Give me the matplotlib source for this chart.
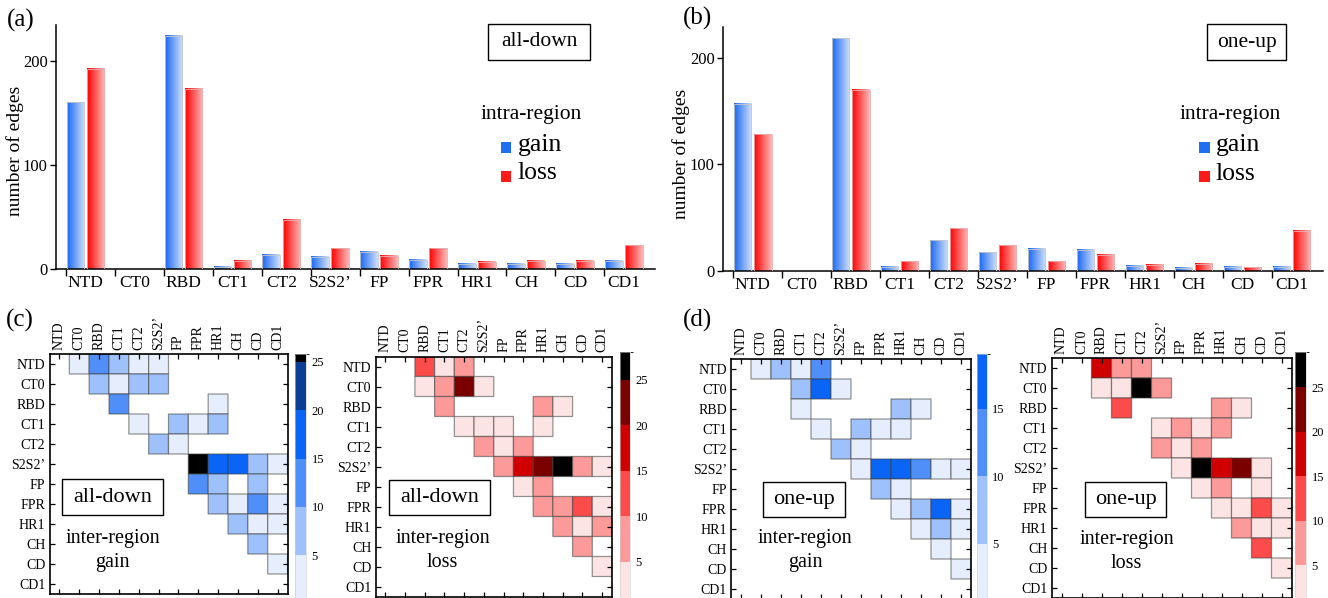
import numpy as np
import matplotlib
matplotlib.use("Agg")
import matplotlib.pyplot as plt
from matplotlib.colors import ListedColormap, BoundaryNorm, LinearSegmentedColormap
from matplotlib.patches import Rectangle
from matplotlib.cm import ScalarMappable

plt.rcParams['font.family'] = ['Liberation Serif', 'DejaVu Serif']

W, H = 1328, 598

regions = ["NTD", "CT0", "RBD", "CT1", "CT2", "S2S2\u2019", "FP", "FPR", "HR1", "CH", "CD", "CD1"]

# intra-region edge counts
alldown_gain = [160, 0, 224, 2, 14, 12, 17, 9, 5, 5, 5, 8]
alldown_loss = [192, 0, 173, 8, 47, 20, 13, 20, 7, 8, 8, 23]
oneup_gain = [157, 0, 218, 4, 29, 17.5, 21, 20, 5, 3, 4, 4]
oneup_loss = [128, 0, 170, 9, 40, 24, 9, 15, 6, 7, 3.5, 37.5]

# inter-region matrices (rows/cols in order of `regions`)
G_ad = [
    [0, 3, 12, 7, 3, 3, 0, 0, 0, 0, 0, 0],
    [0, 0, 7, 3, 7, 7, 0, 0, 0, 0, 0, 0],
    [0, 0, 0, 12, 0, 0, 0, 0, 3, 0, 0, 0],
    [0, 0, 0, 0, 3, 0, 7, 3, 7, 0, 0, 0],
    [0, 0, 0, 0, 0, 7, 3, 0, 0, 0, 0, 0],
    [0, 0, 0, 0, 0, 0, 0, 25.5, 17, 17, 7, 3],
    [0, 0, 0, 0, 0, 0, 0, 12, 7, 0, 7, 0],
    [0, 0, 0, 0, 0, 0, 0, 0, 7, 3, 12, 3],
    [0, 0, 0, 0, 0, 0, 0, 0, 0, 7, 3, 3],
    [0, 0, 0, 0, 0, 0, 0, 0, 0, 0, 7, 0],
    [0, 0, 0, 0, 0, 0, 0, 0, 0, 0, 0, 3],
    [0, 0, 0, 0, 0, 0, 0, 0, 0, 0, 0, 0],
]
L_ad = [
    [0, 0, 12, 3, 7, 0, 0, 0, 0, 0, 0, 0],
    [0, 0, 3, 7, 22, 3, 0, 0, 0, 0, 0, 0],
    [0, 0, 0, 7, 0, 0, 0, 0, 7, 3, 0, 0],
    [0, 0, 0, 0, 3, 3, 3, 0, 3, 0, 0, 0],
    [0, 0, 0, 0, 0, 7, 3, 7, 0, 0, 0, 0],
    [0, 0, 0, 0, 0, 0, 7, 17, 22, 27, 7, 3],
    [0, 0, 0, 0, 0, 0, 0, 3, 7, 0, 0, 0],
    [0, 0, 0, 0, 0, 0, 0, 0, 7, 7, 12, 3],
    [0, 0, 0, 0, 0, 0, 0, 0, 0, 7, 3, 7],
    [0, 0, 0, 0, 0, 0, 0, 0, 0, 0, 7, 0],
    [0, 0, 0, 0, 0, 0, 0, 0, 0, 0, 0, 3],
    [0, 0, 0, 0, 0, 0, 0, 0, 0, 0, 0, 0],
]
G_ou = [
    [0, 3, 7, 3, 12, 0, 0, 0, 0, 0, 0, 0],
    [0, 0, 0, 7, 17, 3, 0, 0, 0, 0, 0, 0],
    [0, 0, 0, 3, 0, 0, 0, 0, 7, 3, 0, 0],
    [0, 0, 0, 0, 3, 0, 7, 3, 3, 0, 0, 0],
    [0, 0, 0, 0, 0, 7, 3, 0, 0, 0, 0, 0],
    [0, 0, 0, 0, 0, 0, 3, 17, 17, 12, 3, 3],
    [0, 0, 0, 0, 0, 0, 0, 7, 3, 0, 0, 0],
    [0, 0, 0, 0, 0, 0, 0, 0, 3, 7, 17, 3],
    [0, 0, 0, 0, 0, 0, 0, 0, 0, 3, 7, 3],
    [0, 0, 0, 0, 0, 0, 0, 0, 0, 0, 3, 0],
    [0, 0, 0, 0, 0, 0, 0, 0, 0, 0, 0, 3],
    [0, 0, 0, 0, 0, 0, 0, 0, 0, 0, 0, 0],
]
L_ou = [
    [0, 0, 17, 7, 7, 0, 0, 0, 0, 0, 0, 0],
    [0, 0, 3, 3, 28, 7, 0, 0, 0, 0, 0, 0],
    [0, 0, 0, 12, 0, 0, 0, 0, 7, 3, 0, 0],
    [0, 0, 0, 0, 0, 3, 7, 3, 7, 0, 0, 0],
    [0, 0, 0, 0, 0, 7, 3, 7, 0, 0, 0, 0],
    [0, 0, 0, 0, 0, 0, 3, 28, 17, 22, 3, 0],
    [0, 0, 0, 0, 0, 0, 0, 3, 7, 0, 3, 0],
    [0, 0, 0, 0, 0, 0, 0, 0, 3, 3, 12, 3],
    [0, 0, 0, 0, 0, 0, 0, 0, 0, 7, 3, 3],
    [0, 0, 0, 0, 0, 0, 0, 0, 0, 0, 12, 0],
    [0, 0, 0, 0, 0, 0, 0, 0, 0, 0, 0, 3],
    [0, 0, 0, 0, 0, 0, 0, 0, 0, 0, 0, 0],
]

blues = ['#e6eefd', '#9ec1fb', '#4f8ff7', '#0a64f5', '#0b3f96', '#000000']
reds = ['#fde4e4', '#fc9a9a', '#fb4b4b', '#d00000', '#7a0000', '#000000']

fig = plt.figure(figsize=(W / 100, H / 100), dpi=100)


def ax_px(l, t, r, b):
    return fig.add_axes([l / W, 1 - b / H, (r - l) / W, (b - t) / H])


def ftxt(x, y, s, **kw):
    fig.text(x / W, 1 - y / H, s, **kw)


def fbox(l, t, r, b, lw=1.0):
    fig.add_artist(Rectangle((l / W, 1 - b / H), (r - l) / W, (b - t) / H,
                             transform=fig.transFigure, fill=False,
                             edgecolor='black', lw=lw))


def fsq(l, t, r, b, color):
    fig.add_artist(Rectangle((l / W, 1 - b / H), (r - l) / W, (b - t) / H,
                             transform=fig.transFigure, facecolor=color,
                             edgecolor='none'))


def barpanel(rect, xlim, ylim, gain, loss):
    ax = ax_px(*rect)
    x = np.arange(len(regions))
    bw = 0.36
    bg = ax.bar(x - 0.205, gain, bw, facecolor='none', edgecolor='#c8c8c8', lw=0.6, zorder=3)
    bl = ax.bar(x + 0.205, loss, bw, facecolor='none', edgecolor='#e8b0b0', lw=0.6, zorder=3)
    grad = np.linspace(0, 1, 64)[None, :]
    cm_b = LinearSegmentedColormap.from_list('gb', ['#1a68f2', '#cfe0fb'])
    cm_r = LinearSegmentedColormap.from_list('gr', ['#ff0000', '#ffb8b8'])
    for bars, cm in ((bg, cm_b), (bl, cm_r)):
        for p in bars.patches:
            h = p.get_height()
            if h <= 0:
                continue
            x0 = p.get_x()
            ax.imshow(grad, extent=(x0, x0 + p.get_width(), 0, h), aspect='auto',
                      cmap=cm, zorder=2, interpolation='bilinear')
    ax.set_xlim(*xlim)
    ax.set_ylim(*ylim)
    for s in ('top', 'right'):
        ax.spines[s].set_visible(False)
    for s in ('left', 'bottom'):
        ax.spines[s].set_linewidth(1.1)
    ax.set_yticks([0, 100, 200])
    ax.tick_params(axis='y', direction='out', length=4, width=1, labelsize=12, pad=2)
    ax.set_xticks(x - 0.4)
    ax.set_xticklabels([])
    ax.tick_params(axis='x', direction='out', length=5, width=1)
    ax.set_xticks(x, minor=True)
    ax.set_xticklabels(regions, minor=True, fontsize=12.5)
    ax.tick_params(axis='x', which='minor', length=0, pad=4)
    return ax


# (a)
barpanel((56, 25, 654.6, 269.3), (-0.603, 11.626), (0, 234.2), alldown_gain, alldown_loss)
ftxt(15, 151, 'number of edges', rotation=90, ha='center', va='center', fontsize=14)
ftxt(21, 20, '(a)', ha='center', va='center', fontsize=18)
fbox(488, 24, 590, 60)
ftxt(539, 42, 'all-down', ha='center', va='center', fontsize=15.5)
ftxt(531.5, 115, 'intra-region', ha='center', va='center', fontsize=15.5)
fsq(501, 142, 511, 153, '#1f6ff2')
fsq(501, 171, 511, 182, '#ff1a1a')
ftxt(518, 145, 'gain', ha='left', va='center', fontsize=18.5)
ftxt(518, 173, 'loss', ha='left', va='center', fontsize=18.5)

# (b)
barpanel((723, 26.7, 1322.5, 271), (-0.607, 11.636), (0, 229), oneup_gain, oneup_loss)
ftxt(681.5, 154, 'number of edges', rotation=90, ha='center', va='center', fontsize=14)
ftxt(697, 18, '(b)', ha='center', va='center', fontsize=18)
fbox(1206.6, 24.3, 1286.3, 60)
ftxt(1246.5, 42, 'one-up', ha='center', va='center', fontsize=15.5)
ftxt(1229.8, 115, 'intra-region', ha='center', va='center', fontsize=15.5)
fsq(1199, 142, 1209.6, 153, '#1f6ff2')
fsq(1199, 171, 1209.6, 182, '#ff1a1a')
ftxt(1216, 145, 'gain', ha='left', va='center', fontsize=18.5)
ftxt(1216, 174, 'loss', ha='left', va='center', fontsize=18.5)


def heat(rect, M, colors, bounds, cbrect, boxrect, boxtxt, subtxt, subpos):
    ax = ax_px(*rect)
    ncol = len(bounds) - 1
    cmap = ListedColormap(colors[:ncol])
    norm = BoundaryNorm(bounds, ncol)
    Mm = np.ma.masked_equal(np.array(M, dtype=float), 0)
    edges = np.arange(len(regions) + 1) - 0.5
    ax.pcolor(edges, edges, Mm, cmap=cmap, norm=norm,
              edgecolors=(0.25, 0.25, 0.25, 0.55), linewidth=0.9)
    ax.set_xlim(-0.5, 11.5)
    ax.set_ylim(11.5, -0.5)
    ax.set_xticks(range(len(regions)))
    ax.set_yticks(range(len(regions)))
    ax.set_xticklabels(regions, rotation=90, fontsize=10)
    ax.set_yticklabels(regions, fontsize=10)
    ax.tick_params(direction='in', length=3.5, width=0.9, top=True, bottom=True,
                   left=True, right=True, labeltop=True, labelbottom=False, pad=3)
    for s in ax.spines.values():
        s.set_linewidth(1.2)
    cax = ax_px(*cbrect)
    sm = ScalarMappable(norm=norm, cmap=cmap)
    cb = fig.colorbar(sm, cax=cax, spacing='proportional',
                      ticks=[t for t in (5, 10, 15, 20, 25) if t < bounds[-1]])
    cb.outline.set_linewidth(0.4)
    cb.outline.set_edgecolor('#cccccc')
    cax.tick_params(length=0, labelsize=9, pad=4)
    fbox(*boxrect)
    bx = (boxrect[0] + boxrect[2]) / 2
    by = (boxrect[1] + boxrect[3]) / 2
    ftxt(bx, by, boxtxt, ha='center', va='center', fontsize=16)
    ftxt(subpos[0], subpos[1], 'inter-region', ha='center', va='center', fontsize=14.5)
    ftxt(subpos[0], subpos[1] + 23.5, subtxt, ha='center', va='center', fontsize=14.5)
    return ax


heat((49.5, 354, 287.5, 594), G_ad, blues, [0.6, 5, 10, 15, 20, 25, 25.8],
     (295, 354, 306, 598), (61.7, 479.3, 162.7, 515), 'all-down', 'gain', (112.5, 539))
heat((375.5, 356.5, 612, 596.5), L_ad, reds, [1, 5, 10, 15, 20, 25, 28.1],
     (620, 351.7, 630, 598), (389.3, 480, 490, 515), 'all-down', 'loss', (442.5, 539))
heat((731, 359, 971, 599), G_ou, blues, [1, 5, 10, 15, 19.05],
     (976.7, 354, 986.7, 598), (762.7, 481.7, 845, 516.7), 'one-up', 'gain', (805, 539))
heat((1051.5, 358, 1291.5, 598), L_ou, reds, [1.3, 5, 10, 15, 20, 25, 29],
     (1295, 351.7, 1306, 598), (1085, 481.7, 1166, 516.7), 'one-up', 'loss', (1126.7, 539.5))

ftxt(20, 320, '(c)', ha='center', va='center', fontsize=18)
ftxt(698, 320, '(d)', ha='center', va='center', fontsize=18)

fig.savefig('out.png', dpi=100)
